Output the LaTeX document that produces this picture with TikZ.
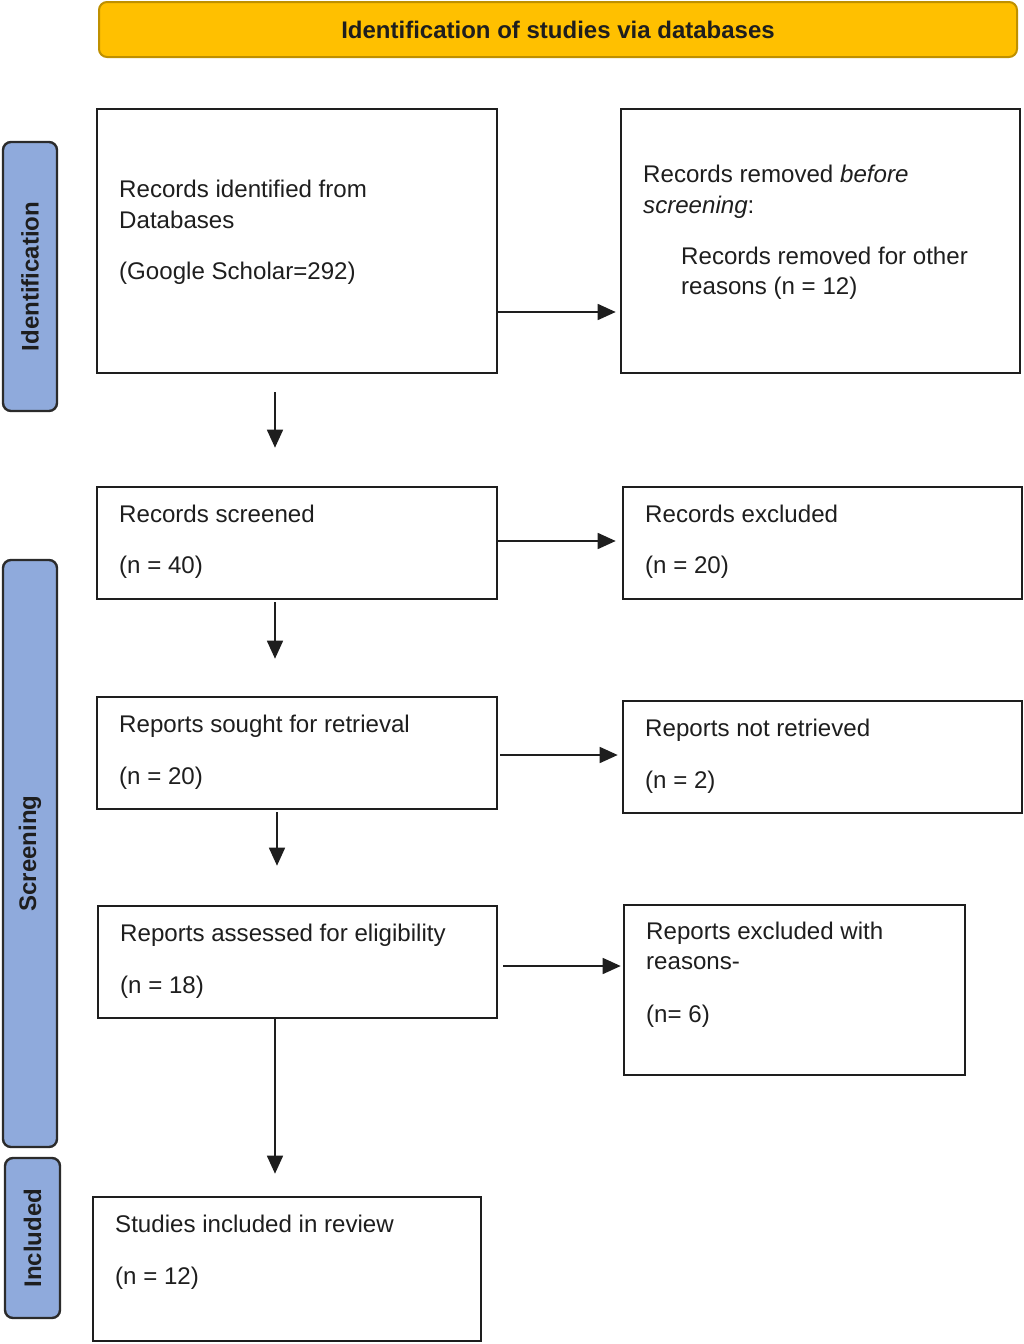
\documentclass[tikz,border=0pt]{standalone}
\usepackage{fontspec}
\setmainfont{Liberation Sans}
\usetikzlibrary{arrows.meta}
\definecolor{titlefill}{HTML}{FFC000}
\definecolor{titledraw}{HTML}{BF9000}
\definecolor{sidefill}{HTML}{8FAADC}
\definecolor{sidedraw}{HTML}{2B2B2B}
\definecolor{boxdraw}{HTML}{1E1E1E}
\tikzset{
  box/.style={draw=boxdraw, line width=2.6pt, rectangle, inner sep=0pt},
  txt/.style={anchor=base west, inner sep=0pt, font=\fontsize{24.1}{31}\selectfont, text=boxdraw},
  side/.style={draw=sidedraw, fill=sidefill, line width=2.4pt, rounded corners=8pt, rotate=90,
     inner sep=0pt, font=\fontsize{24}{28}\selectfont\bfseries, text=boxdraw},
  titlebox/.style={draw=titledraw, fill=titlefill, line width=2pt, rounded corners=8pt,
     inner sep=0pt, font=\fontsize{24}{28}\selectfont\bfseries, text=boxdraw},
  arr/.style={-{Triangle[length=18pt,width=16pt]}, line width=1.6pt, draw=boxdraw},
}
\newcommand{\tline}[4]{\node[txt] (#1) at (#2,#3+8) {#4};}
\begin{document}
\begin{tikzpicture}[x=1pt,y=-1pt]
\useasboundingbox (0,0) rectangle (1024,1344);

% title
\node[titlebox, minimum width=918pt, minimum height=55pt] (title) at (558,29.5) {Identification of studies via databases};

% side labels
\node[side, minimum width=269pt, minimum height=54pt] (sid) at (30,276.5) {Identification};
\node[side, minimum width=587pt, minimum height=54pt] (sscr) at (30,853.5) {Screening};
\node[side, minimum width=160pt, minimum height=55pt] (sinc) at (32.5,1238) {Included};

% boxes
\node[box, minimum width=400pt, minimum height=264pt] (b1) at (297,241) {};
\node[box, minimum width=399pt, minimum height=264pt] (b2) at (820.5,241) {};
\node[box, minimum width=400pt, minimum height=112pt] (b3) at (297,543) {};
\node[box, minimum width=399pt, minimum height=112pt] (b4) at (822.5,543) {};
\node[box, minimum width=400pt, minimum height=112pt] (b5) at (297,753) {};
\node[box, minimum width=399pt, minimum height=112pt] (b6) at (822.5,757) {};
\node[box, minimum width=399pt, minimum height=112pt] (b7) at (297.5,962) {};
\node[box, minimum width=341pt, minimum height=170pt] (b8) at (794.5,990) {};
\node[box, minimum width=388pt, minimum height=144pt] (b9) at (287,1269) {};

% texts
\tline{t1a}{119}{189}{Records identified from}
\tline{t1b}{119}{220}{Databases}
\tline{t1c}{119}{271}{(Google Scholar=292)}

\tline{t2a}{643}{174}{Records removed \textit{before}}
\tline{t2b}{643}{205}{\textit{screening}:}
\tline{t2c}{681}{256}{Records removed for other}
\tline{t2d}{681}{286}{reasons (n = 12)}

\tline{t3a}{119}{514}{Records screened}
\tline{t3b}{119}{565}{(n = 40)}

\tline{t4a}{645}{514}{Records excluded}
\tline{t4b}{645}{565}{(n = 20)}

\tline{t5a}{119}{724}{Reports sought for retrieval}
\tline{t5b}{119}{776}{(n = 20)}

\tline{t6a}{645}{728}{Reports not retrieved}
\tline{t6b}{645}{780}{(n = 2)}

\tline{t7a}{120}{933}{Reports assessed for eligibility}
\tline{t7b}{120}{985}{(n = 18)}

\tline{t8a}{646}{931}{Reports excluded with}
\tline{t8b}{646}{961}{reasons-}
\tline{t8c}{646}{1014}{(n= 6)}

\tline{t9a}{115}{1224}{Studies included in review}
\tline{t9b}{115}{1276}{(n = 12)}

% helper coordinates
\coordinate (h1) at (0,312);
\coordinate (h3) at (0,541);
\coordinate (h5) at (0,755);
\coordinate (h7) at (0,966);
\coordinate (v1) at (275,0);
\coordinate (v3) at (277,0);

% connectors
\draw[arr, shorten >=4pt] (b1.east |- h1) -- (b2.west |- h1);
\draw[arr, shorten >=6pt] (b3.east |- h3) -- (b4.west |- h3);
\draw[arr, shorten <=2pt, shorten >=4pt] (b5.east |- h5) -- (b6.west |- h5);
\draw[arr, shorten <=5pt, shorten >=2pt] (b7.east |- h7) -- (b8.west |- h7);

\draw[arr, shorten <=18pt, shorten >=38pt] (b1.south -| v1) -- (b3.north -| v1);
\draw[arr, shorten <=2pt, shorten >=37pt] (b3.south -| v1) -- (b5.north -| v1);
\draw[arr, shorten <=2pt, shorten >=39pt] (b5.south -| v3) -- (b7.north -| v3);
\draw[arr, shorten >=22pt] (b7.south -| v1) -- (b9.north -| v1);
\end{tikzpicture}
\end{document}
